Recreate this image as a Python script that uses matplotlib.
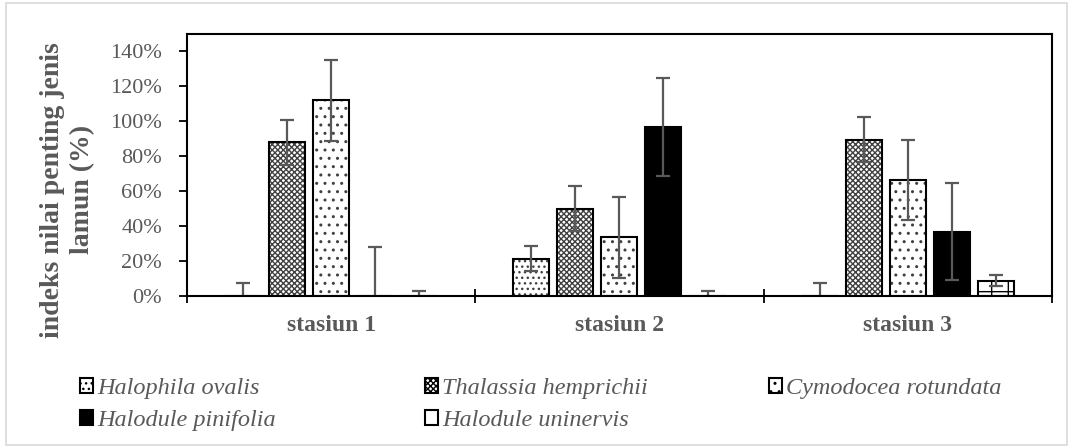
import matplotlib.pyplot as plt
import matplotlib.patches as mpatches
import numpy as np

plt.rcParams['font.family'] = ['Liberation Serif', 'DejaVu Serif']
plt.rcParams['hatch.linewidth'] = 1.0

stations = ['stasiun 1', 'stasiun 2', 'stasiun 3']
species = ['Halophila ovalis', 'Thalassia hemprichii', 'Cymodocea rotundata',
           'Halodule pinifolia', 'Halodule uninervis']

# values in percent, one list per species (st1, st2, st3)
halophila = [0, 21.4, 0]
thalassia = [88, 50, 89.5]
cymodocea = [112, 33.5, 66.4]
pinifolia = [0, 96.6, 36.9]
uninervis = [0, 0, 8.8]

err_halophila = [7.3, 7, 7.3]
err_thalassia = [13, 13, 13]
err_cymodocea = [23, 23, 23]
err_pinifolia = [28, 28, 28]
err_uninervis = [3, 3, 3]

values = [halophila, thalassia, cymodocea, pinifolia, uninervis]
errors = [err_halophila, err_thalassia, err_cymodocea, err_pinifolia, err_uninervis]
faces = ['white', 'white', 'white', 'black', 'white']
hatches = ['...', 'xxxxxx', '..', None, '-|']
hcolors = ['#404040', '#404040', '#404040', 'black', 'black']

fig = plt.figure(figsize=(10.7, 4.47), dpi=100)
ax = fig.add_axes([0.1748, 0.3378, 0.983 - 0.1748, 0.924 - 0.3378])

fig.patches.append(mpatches.Rectangle((0.006, 0.004), 0.991, 0.99, transform=fig.transFigure,
                                      fill=False, edgecolor='#d9d9d9', linewidth=1.2))

slot = 44 / 288
width = 36 / 288
x = np.arange(len(stations)) + 0.5
grey = '#595959'

handles = []
for i, (v, e) in enumerate(zip(values, errors)):
    pos = x + (i - 2) * slot
    ax.bar(pos, v, width, color=faces[i], edgecolor=hcolors[i], hatch=hatches[i],
           linewidth=0)
    # outline drawn separately so hatch colour can differ
    ax.bar(pos, v, width, fill=False, edgecolor='black', linewidth=1.5)
    ax.errorbar(pos, v, yerr=e, fmt='none', ecolor=grey, elinewidth=1.6, capsize=5,
                capthick=1.6)
    handles.append(mpatches.Patch(facecolor=faces[i], edgecolor='black',
                                  hatch=hatches[i], linewidth=1.5))

ax.set_xlim(0, 3)
ax.set_ylim(0, 150)
ax.set_yticks(np.arange(0, 141, 20))
ax.set_yticklabels([f'{t}%' for t in range(0, 141, 20)], fontsize=16, color=grey)
ax.set_xticks(x)
ax.set_xticklabels(stations, fontsize=17, fontweight='bold', color=grey)
ax.tick_params(axis='x', which='major', length=0, pad=14)
ax.set_xticks([0, 1, 2, 3], minor=True)
ax.tick_params(axis='x', which='minor', direction='inout', length=10, width=1.3)
ax.tick_params(axis='y', direction='out', length=6, width=1.3, pad=12)
for s in ax.spines.values():
    s.set_linewidth(1.5)

ax.set_ylabel('indeks nilai penting jenis\nlamun (%)', fontsize=20, fontweight='bold',
              color=grey, linespacing=1.3)
ax.yaxis.set_label_coords(-0.106, 0.405)

# legend laid out in rows, like the original: one legend per column
columns = [[0, 3], [1, 4], [2]]
col_x = [80, 425, 769]
for idx, cx in zip(columns, col_x):
    leg = fig.legend([handles[k] for k in idx], [species[k] for k in idx],
                     loc='upper left', bbox_to_anchor=(cx / 1070, 1 - 378 / 447),
                     frameon=False, prop={'style': 'italic', 'size': 17.5},
                     handlelength=0.55, handleheight=0.55, handletextpad=0.15,
                     labelspacing=0.45, borderpad=0, borderaxespad=0)
    for t in leg.get_texts():
        t.set_color(grey)

fig.savefig('out.png', dpi=100)
